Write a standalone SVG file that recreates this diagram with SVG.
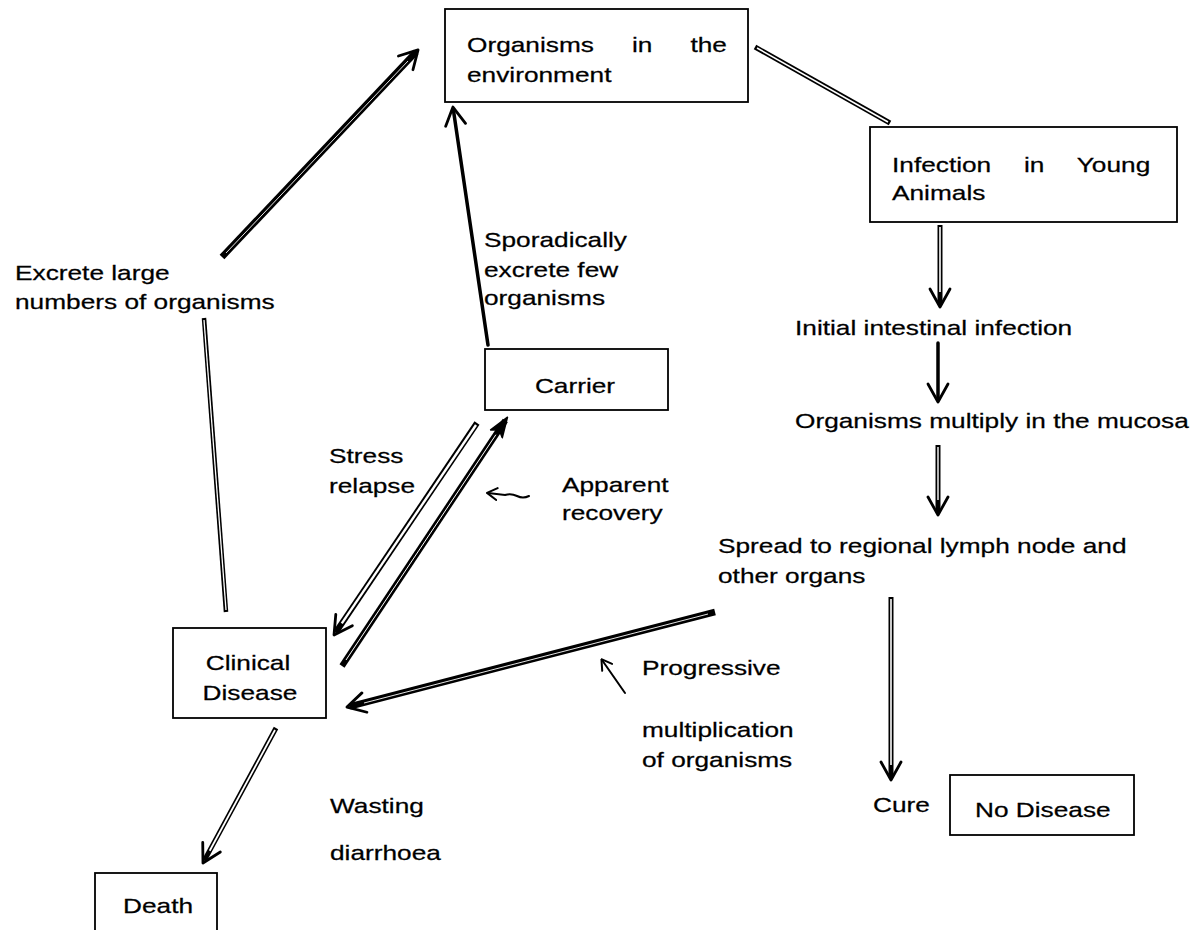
<svg xmlns="http://www.w3.org/2000/svg" width="1190" height="930" viewBox="0 0 1190 930">
<style>
.t{font-family:"Liberation Sans",Arial,Helvetica,sans-serif;font-size:21px;fill:#000;stroke:#000;stroke-width:0.25}
.box{fill:#fff;stroke:#000;stroke-width:1.8}
.o{fill:none;stroke:#000;stroke-linecap:butt}
.i{fill:none;stroke:#fff;stroke-linecap:butt}
.s{fill:none;stroke:#000;stroke-linecap:round}
</style>
<defs>
<marker id="ah" viewBox="0 0 22 24" refX="17" refY="12" markerWidth="22" markerHeight="24" markerUnits="userSpaceOnUse" orient="auto">
<path d="M2,2 L20,12 L2,22" fill="none" stroke="#000" stroke-width="2.8" stroke-linecap="round" stroke-linejoin="round"/>
</marker>
<marker id="ahf" viewBox="0 0 22 24" refX="17" refY="12" markerWidth="22" markerHeight="24" markerUnits="userSpaceOnUse" orient="auto">
<path d="M1,5 L21,12 L1,19 L6,12 Z" fill="#000" stroke="#000" stroke-width="1.5" stroke-linejoin="round"/>
</marker>
<marker id="ahs" viewBox="0 0 12 14" refX="10" refY="7" markerWidth="12" markerHeight="14" markerUnits="userSpaceOnUse" orient="auto">
<path d="M1,1 L11,7 L1,13" fill="none" stroke="#000" stroke-width="2" stroke-linecap="round" stroke-linejoin="round"/>
</marker>
</defs>
<rect x="0" y="0" width="1190" height="930" fill="#fff"/>

<g id="connectors">
  <!-- Clinical Disease -> environment (excrete large numbers) -->
  <line class="o" x1="226" y1="612" x2="204" y2="318" stroke-width="4.5"/>
  <line class="i" x1="226" y1="610" x2="204" y2="320" stroke-width="1.3"/>
  <line class="o" x1="222" y1="257" x2="416" y2="52" stroke-width="6.5" marker-end="url(#ah)"/>
  <line class="i" x1="226" y1="253" x2="408" y2="61" stroke-width="0.9"/>
  <!-- Carrier -> environment -->
  <line class="s" x1="488" y1="345" x2="453.4" y2="110" stroke-width="3.5" marker-end="url(#ah)"/>
  <!-- environment -> Infection in young animals -->
  <line class="o" x1="755" y1="47" x2="890" y2="123" stroke-width="5" stroke-linecap="round"/>
  <line class="i" x1="757" y1="48" x2="888" y2="122" stroke-width="1.6"/>
  <!-- chain on the right -->
  <line class="o" x1="940" y1="225" x2="940" y2="304" stroke-width="5" marker-end="url(#ah)"/>
  <line class="i" x1="940" y1="227" x2="940" y2="292" stroke-width="1.6"/>
  <line class="s" x1="938" y1="343" x2="938" y2="399" stroke-width="3.5" marker-end="url(#ah)"/>
  <line class="o" x1="938" y1="445" x2="938" y2="512" stroke-width="5" marker-end="url(#ah)"/>
  <line class="i" x1="938" y1="447" x2="938" y2="500" stroke-width="1.4"/>
  <line class="o" x1="891" y1="597" x2="891" y2="777" stroke-width="5" marker-end="url(#ah)"/>
  <line class="i" x1="891" y1="599" x2="891" y2="765" stroke-width="1.6"/>
  <!-- Carrier -> Clinical (stress relapse) -->
  <line class="o" x1="477" y1="423" x2="335.7" y2="632.5" stroke-width="6" marker-end="url(#ah)"/>
  <line class="i" x1="476" y1="425" x2="341.8" y2="623.4" stroke-width="2.4"/>
  <!-- Clinical -> Carrier (apparent recovery) -->
  <line class="o" x1="342" y1="666" x2="505.3" y2="420.5" stroke-width="6" marker-end="url(#ahf)"/>
  <line class="i" x1="346" y1="660" x2="495.9" y2="434.7" stroke-width="1"/>
  <!-- Spread -> Clinical (progressive multiplication) -->
  <line class="o" x1="715" y1="612" x2="349.9" y2="706.3" stroke-width="6.5" marker-end="url(#ah)"/>
  <line class="i" x1="708" y1="614" x2="364" y2="703" stroke-width="0.9"/>
  <!-- Clinical -> Death -->
  <line class="o" x1="276" y1="728" x2="204.4" y2="860.4" stroke-width="5" marker-end="url(#ah)"/>
  <line class="i" x1="275" y1="730" x2="209.7" y2="850.7" stroke-width="1.8"/>
  <!-- small pointer arrows -->
  <path class="s" d="M529,496 q-6,3 -12,0 q-6,-3 -12,-1 L488,493" stroke-width="2" marker-end="url(#ahs)"/>
  <path class="s" d="M625,693 L602,660" stroke-width="2" marker-end="url(#ahs)"/>
</g>

<g id="env">
  <rect class="box" x="445" y="9" width="303" height="93"/>
  <text class="t" transform="translate(467,52) scale(1.25,1)" word-spacing="24.6">Organisms in the</text>
  <text class="t" transform="translate(467,82) scale(1.25,1)">environment</text>
</g>
<g id="infection">
  <rect class="box" x="870" y="127" width="307" height="95"/>
  <text class="t" transform="translate(892,172) scale(1.25,1)" word-spacing="20.4">Infection in Young</text>
  <text class="t" transform="translate(892,200) scale(1.25,1)">Animals</text>
</g>
<g id="initial">
  <text class="t" transform="translate(795,335) scale(1.25,1)">Initial intestinal infection</text>
</g>
<g id="multiply">
  <text class="t" transform="translate(795,428) scale(1.25,1)">Organisms multiply in the mucosa</text>
</g>
<g id="spread">
  <text class="t" transform="translate(718,553) scale(1.25,1)">Spread to regional lymph node and</text>
  <text class="t" transform="translate(718,583) scale(1.25,1)">other organs</text>
</g>
<g id="cure">
  <text class="t" transform="translate(873,812) scale(1.25,1)">Cure</text>
</g>
<g id="nodisease">
  <rect class="box" x="950" y="775" width="184" height="60"/>
  <text class="t" transform="translate(975,817) scale(1.25,1)">No Disease</text>
</g>
<g id="carrier">
  <rect class="box" x="485" y="349" width="183" height="61"/>
  <text class="t" text-anchor="middle" transform="translate(575,393) scale(1.25,1)">Carrier</text>
</g>
<g id="clinical">
  <rect class="box" x="173" y="628" width="153" height="90"/>
  <text class="t" text-anchor="middle" transform="translate(248,670) scale(1.25,1)">Clinical</text>
  <text class="t" text-anchor="middle" transform="translate(250,700) scale(1.25,1)">Disease</text>
</g>
<g id="death">
  <rect class="box" x="95" y="873" width="122" height="80"/>
  <text class="t" transform="translate(123,913) scale(1.25,1)">Death</text>
</g>

<g id="labels">
  <text class="t" transform="translate(15,280) scale(1.25,1)">Excrete large</text>
  <text class="t" transform="translate(15,309) scale(1.25,1)">numbers of organisms</text>
  <text class="t" transform="translate(484,247) scale(1.25,1)">Sporadically</text>
  <text class="t" transform="translate(484,277) scale(1.25,1)">excrete few</text>
  <text class="t" transform="translate(484,305) scale(1.25,1)">organisms</text>
  <text class="t" transform="translate(329,463) scale(1.25,1)">Stress</text>
  <text class="t" transform="translate(329,493) scale(1.25,1)">relapse</text>
  <text class="t" transform="translate(562,492) scale(1.25,1)">Apparent</text>
  <text class="t" transform="translate(562,520) scale(1.25,1)">recovery</text>
  <text class="t" transform="translate(642,675) scale(1.25,1)">Progressive</text>
  <text class="t" transform="translate(642,737) scale(1.25,1)">multiplication</text>
  <text class="t" transform="translate(642,767) scale(1.25,1)">of organisms</text>
  <text class="t" transform="translate(330,813) scale(1.25,1)">Wasting</text>
  <text class="t" transform="translate(330,860) scale(1.25,1)">diarrhoea</text>
</g>
</svg>
